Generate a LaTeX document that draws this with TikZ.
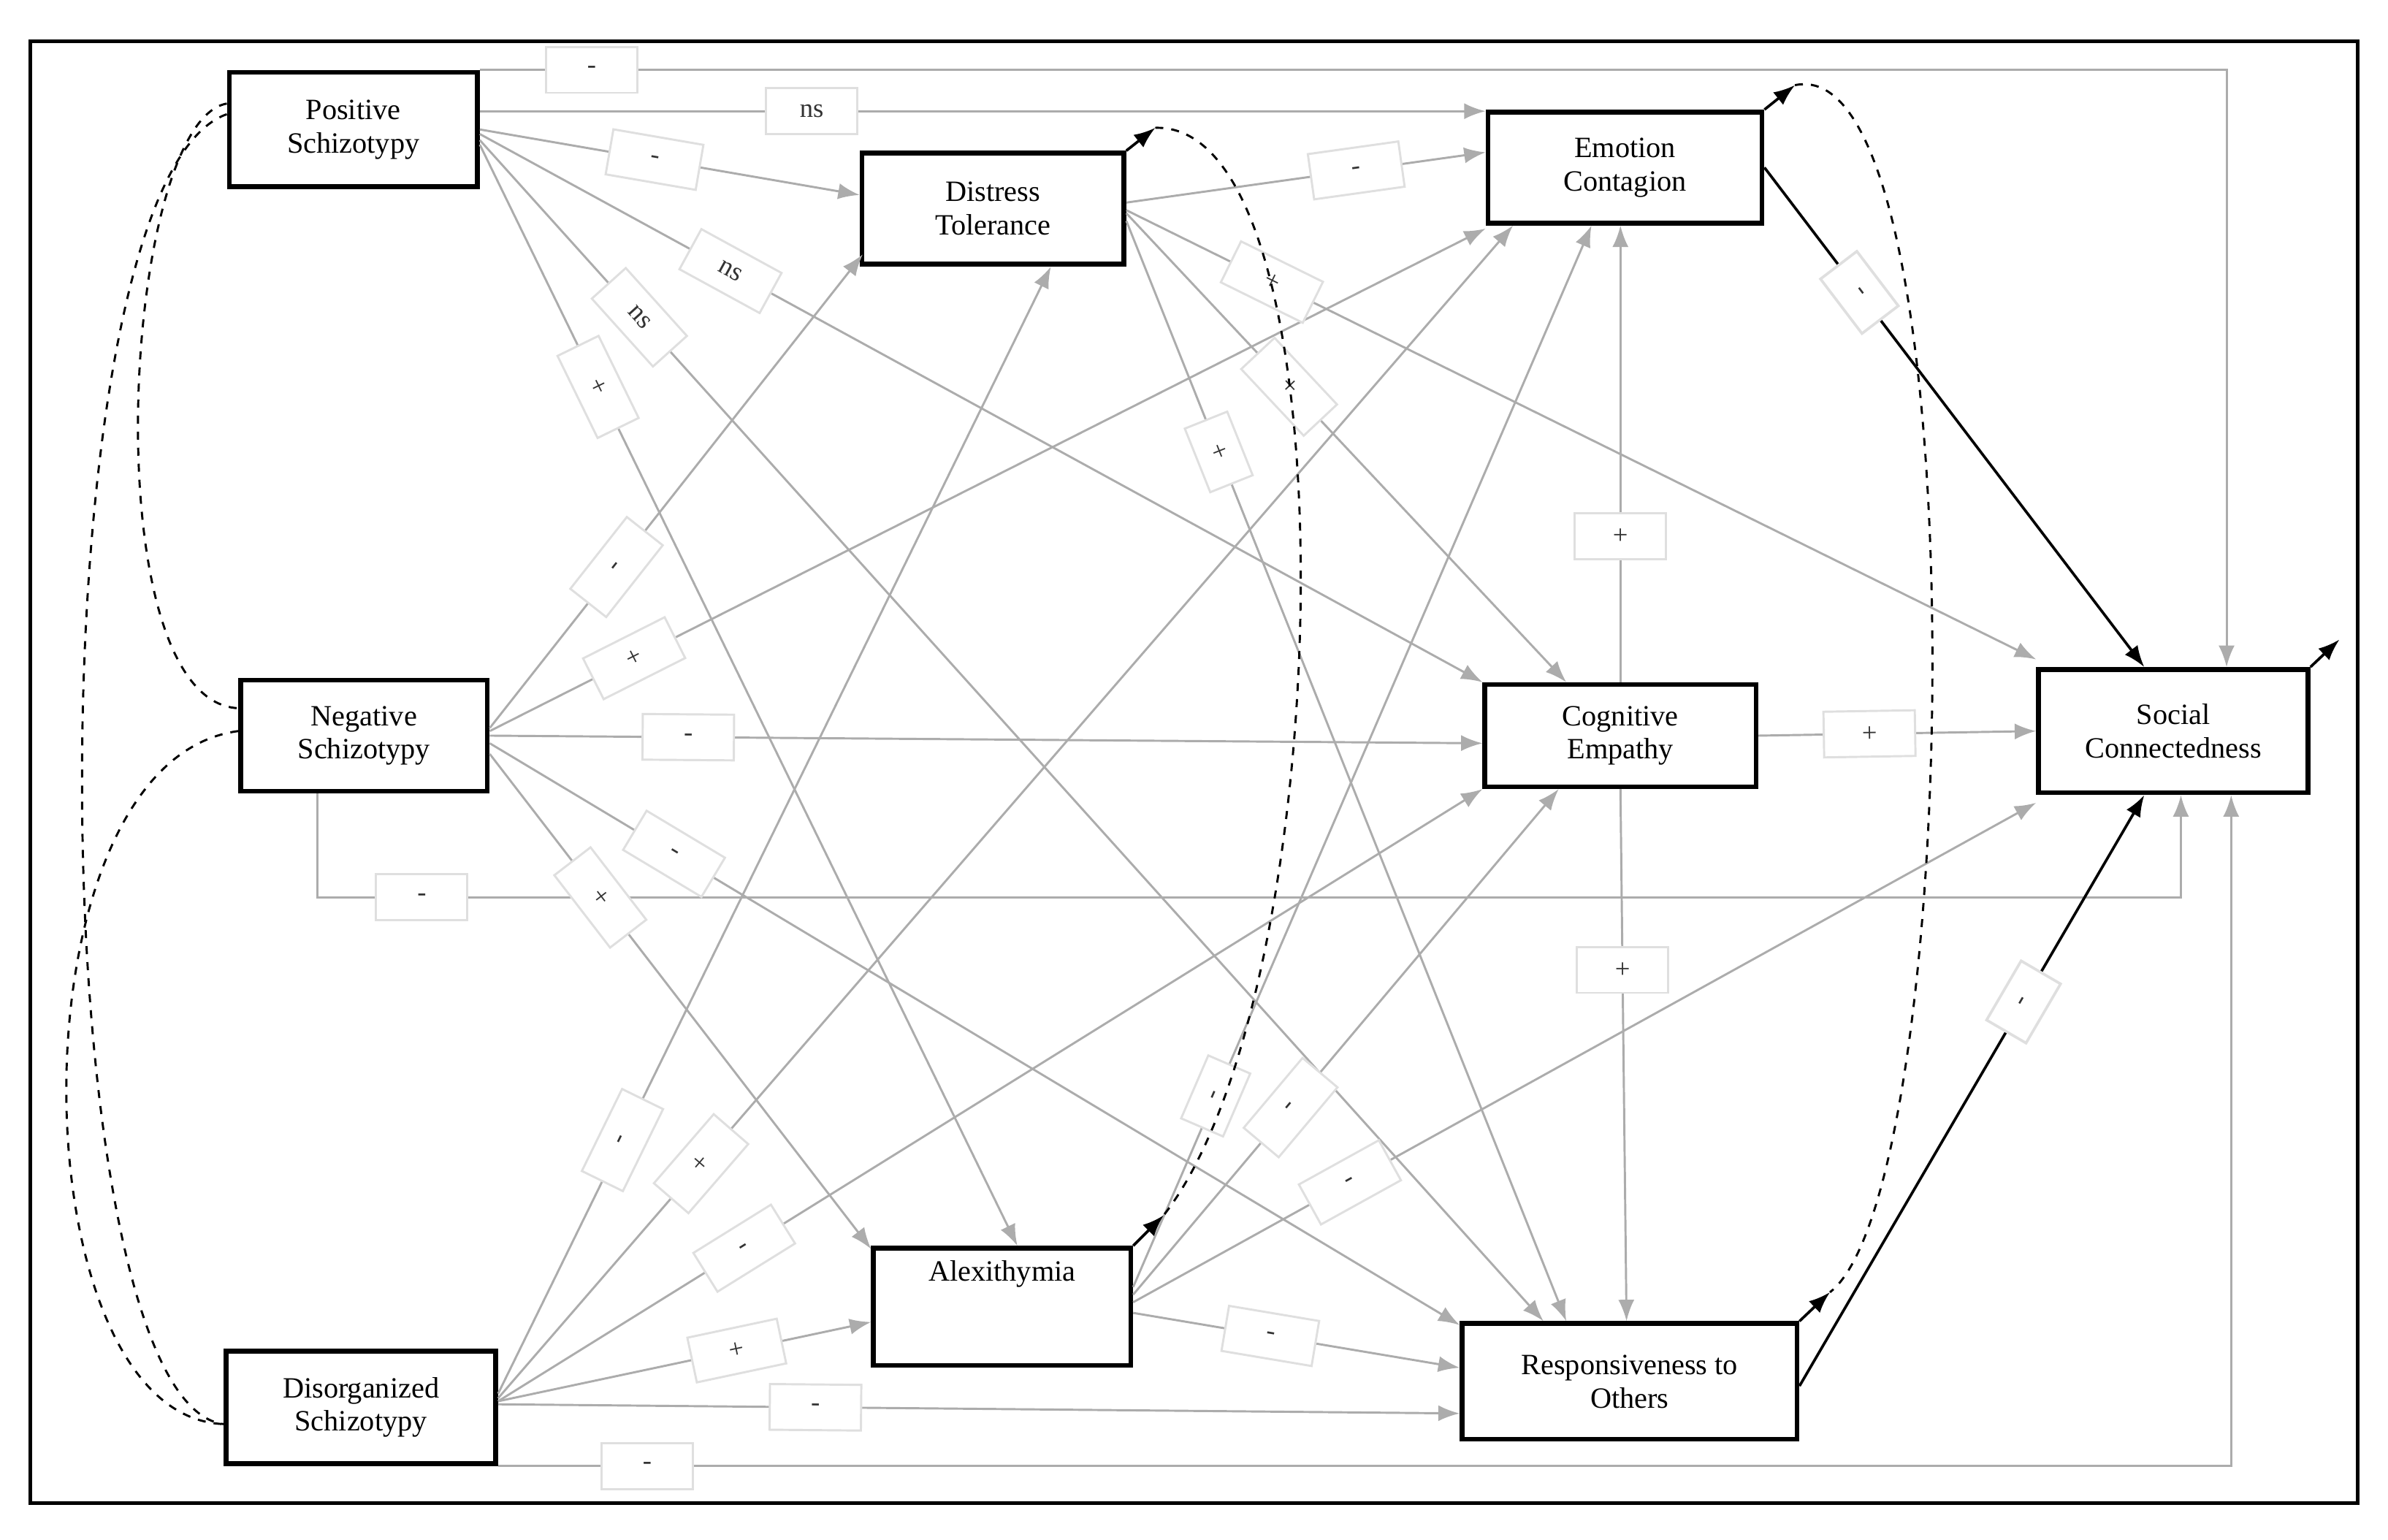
\documentclass[tikz,border=0pt]{standalone}
\usepackage{fontspec}
\setmainfont{Liberation Serif}
\usetikzlibrary{calc,arrows.meta}
\begin{document}
\begin{tikzpicture}[x=0.02cm,y=-0.02cm,
  box/.style={draw=black,line width=1.8pt,fill=white,align=center,inner sep=0pt,font=\fontsize{11}{12.5}\selectfont},
  ga/.style={draw=gray!65,line width=0.8pt,-{Latex[length=8pt,width=6pt]}},
  bk/.style={draw=black,line width=1pt,-{Latex[length=8pt,width=6pt]}},
  dsh/.style={draw=black,dashed,line width=0.8pt},
  lab/.style={draw=gray!25,fill=white,sloped,minimum width=1.2cm,minimum height=0.6cm,inner sep=0pt,font=\fontsize{10}{11}\selectfont,text=black!80},
  ulab/.style={lab,sloped=false}]
\useasboundingbox (0,0) rectangle (1568,1011);
\draw[line width=1.4pt] (20,27) rectangle (1548,987);
\node[box,minimum width=3.26cm,minimum height=1.5cm] (ps) at (232,85) {Positive\\Schizotypy};
\node[box,minimum width=3.24cm,minimum height=1.46cm] (ns) at (239,483) {Negative\\Schizotypy};
\node[box,minimum width=3.54cm,minimum height=1.48cm] (ds) at (237,924) {Disorganized\\Schizotypy};
\node[box,minimum width=3.44cm,minimum height=1.46cm] (dt) at (652,137) {Distress\\Tolerance};
\node[box,minimum width=3.6cm,minimum height=1.46cm] (ec) at (1067,110) {Emotion\\Contagion};
\node[box,minimum width=3.56cm,minimum height=1.34cm] (ce) at (1064,483) {Cognitive\\Empathy};
\node[box,minimum width=3.38cm,minimum height=1.54cm,text depth=0pt] (ax) at (658,858) {Alexithymia\\[0.5cm]};
\node[box,minimum width=4.4cm,minimum height=1.52cm] (ro) at (1070,907) {Responsiveness to\\Others};
\node[box,minimum width=3.54cm,minimum height=1.62cm] (sc) at (1427,480) {Social\\Connectedness};
% Positive
\draw[ga] (ps.north east) -| node[lab,pos=0.032]{-} ($(sc.north)+(35,0)$);
\draw[ga] ($(ps.east)+(0,-12)$) -- node[lab,pos=0.33]{ns} ($(ec.west)+(0,-37)$);
\draw[ga] (ps.east) -- node[lab,pos=0.46]{-} ($(dt.west)+(0,-9)$);
\draw[ga] ($(ps.east)+(0,3)$) -- node[lab,pos=0.25]{ns} (ce.north west);
\draw[ga] ($(ps.east)+(0,7)$) -- node[lab,pos=0.15]{ns} ($(ro.north west)+(55,0)$);
\draw[ga] ($(ps.east)+(0,10)$) -- node[lab,pos=0.22]{+} ($(ax.north)+(10,0)$);
% Negative
\draw[ga] ($(ns.east)+(0,-5)$) -- node[lab,pos=0.34]{-} ($(dt.south west)+(2,-8)$);
\draw[ga] ($(ns.east)+(0,-3)$) -- node[lab,pos=0.145]{+} ($(ec.south west)+(0,2)$);
\draw[ga] (ns.east) -- node[lab,pos=0.2]{-} ($(ce.west)+(0,5)$);
\draw[ga] ($(ns.south west)+(52,0)$) |- node[lab,pos=0.528]{-} ($(sc.south)+(5,67)$) -- ($(sc.south)+(5,0)$);
\draw[ga] ($(ns.east)+(0,5)$) -- node[lab,pos=0.19]{-} ($(ro.west)+(0,-37)$);
\draw[ga] ($(ns.east)+(0,12)$) -- node[lab,pos=0.29]{+} ($(ax.west)+(0,-38)$);
% Disorganized
\draw[ga] ($(ds.east)+(0,-9)$) -- node[lab,pos=0.225]{-} ($(dt.south)+(38,0)$);
\draw[ga] ($(ds.east)+(0,-6)$) -- node[lab,pos=0.2]{+} ($(ec.south west)+(18,0)$);
\draw[ga] ($(ds.east)+(0,-4)$) -- node[lab,pos=0.25]{-} ($(ce.south west)+(0,0)$);
\draw[ga] ($(ds.east)+(0,-4)$) -- node[lab,pos=0.64]{+} ($(ax.west)+(0,10)$);
\draw[ga] ($(ds.east)+(0,-2)$) -- node[lab,pos=0.33]{-} ($(ro.west)+(0,21)$);
\draw[ga] (ds.south east) -| node[lab,pos=0.043]{-} ($(sc.south)+(38,0)$);
% Distress Tolerance
\draw[ga] ($(dt.east)+(0,-4)$) -- node[lab,pos=0.64]{-} ($(ec.west)+(0,-10)$);
\draw[ga] ($(dt.east)+(0,1)$) -- node[lab,pos=0.16]{+} ($(sc.north west)+(0,-5)$);
\draw[ga] ($(dt.east)+(0,3)$) -- node[lab,pos=0.37]{+} ($(ce.north west)+(55,0)$);
\draw[ga] ($(dt.east)+(0,8)$) -- node[lab,pos=0.21,minimum width=0.9cm]{+} ($(ro.north west)+(70,0)$);
% Alexithymia
\draw[ga] ($(ax.east)+(0,-13)$) -- node[lab,pos=0.18,minimum width=0.9cm]{-} ($(ec.south)+(-22,0)$);
\draw[ga] ($(ax.east)+(0,-8)$) -- node[lab,pos=0.37]{-} ($(ce.south west)+(50,0)$);
\draw[ga] ($(ax.east)+(0,-3)$) -- node[lab,pos=0.24]{-} ($(sc.south west)+(0,5)$);
\draw[ga] ($(ax.east)+(0,4)$) -- node[lab,pos=0.42]{-} ($(ro.west)+(0,-9)$);
% Cognitive Empathy
\draw[ga] (ce.north) -- node[ulab,pos=0.32]{+} ($(ec.south)+(-3,0)$);
\draw[ga] (ce.south) -- node[ulab,pos=0.34]{+} ($(ro.north)+(-2,0)$);
\draw[ga] (ce.east) -- node[lab,pos=0.4]{+} ($(sc.west)+(0,0)$);
% black
\draw[bk] (ec.east) -- node[lab,pos=0.25,minimum width=0.9cm]{-} ($(sc.north west)+(71,0)$);
\draw[bk] ($(ro.east)+(0,3)$) -- node[lab,pos=0.65,minimum width=0.9cm]{-} ($(sc.south west)+(71,0)$);
% residual arrows
\draw[bk] (dt.north east) -- ++(19,-15) coordinate (dtr);
\draw[bk] (ec.north east) -- ++(20,-16) coordinate (ecr);
\draw[bk] (sc.north east) -- ++(19,-18) coordinate (scr);
\draw[bk] (ax.north east) -- ++(20,-20) coordinate (axr);
\draw[bk] (ro.north east) -- ++(20,-19) coordinate (ror);
% covariances
\draw[dsh] ($(ps.west)+(0,-17)$) .. controls (80,80) and (60,460) .. ($(ns.west)+(0,-18)$);
\draw[dsh] ($(ps.west)+(0,-10)$) .. controls (20,120) and (25,920) .. ($(ds.west)+(0,11)$);
\draw[dsh] ($(ns.west)+(0,-3)$) .. controls (5,500) and (10,930) .. ($(ds.west)+(0,11)$);
\draw[dsh] (dtr) .. controls (890,80) and (880,650) .. (axr);
\draw[dsh] (ecr) .. controls (1300,30) and (1290,780) .. (ror);
\end{tikzpicture}
\end{document}
